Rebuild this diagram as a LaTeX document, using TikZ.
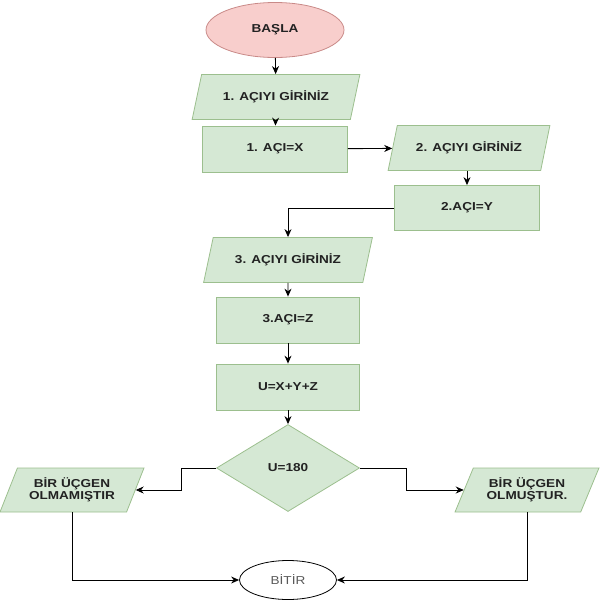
\documentclass[tikz,border=0pt]{standalone}
\usepackage{fontspec}
\setmainfont{Liberation Sans}[FakeStretch=1.18]
\usetikzlibrary{shapes.geometric,arrows.meta}
\definecolor{gfill}{HTML}{D5E8D4}
\definecolor{gdraw}{HTML}{9CBF8E}
\definecolor{pfill}{HTML}{F8CECC}
\definecolor{pdraw}{HTML}{C98A88}
\definecolor{txt}{HTML}{222222}
\tikzset{
  base/.style={font=\fontsize{11.5}{12.5}\selectfont\bfseries, text=txt, align=center, line width=0.8pt, inner sep=0pt},
  procbox/.style={base, rectangle, draw=gdraw, fill=gfill, minimum width=144pt, minimum height=46pt},
  iobox/.style={base, trapezium, trapezium left angle=61, trapezium right angle=119, trapezium stretches=true, draw=gdraw, fill=gfill, minimum height=45pt},
  decbox/.style={base, diamond, draw=gdraw, fill=gfill, minimum width=143pt, minimum height=87pt, aspect=1.64},
  startbox/.style={base, ellipse, draw=pdraw, fill=pfill, minimum width=138pt, minimum height=55pt},
  endbox/.style={ellipse, draw=black, fill=white, line width=0.8pt, minimum width=97pt, minimum height=39pt, inner sep=0pt, font=\fontsize{11.5}{12.5}\selectfont, text=black!65},
  arr/.style={draw=black, line width=0.9pt, -{Stealth[length=8pt,width=7pt]}}
}
\begin{document}
\begin{tikzpicture}[x=1pt,y=-1pt]
\useasboundingbox (0,0) rectangle (600,600);
\node[startbox] (start) at (275,30) {BAŞLA};
\node[iobox, minimum width=168pt] (in1) at (276,97) {1. AÇIYI GİRİNİZ};
\node[procbox, minimum width=145pt] (x) at (275,149) {1. AÇI=X};
\node[iobox, minimum width=162pt] (in2) at (469,148) {2. AÇIYI GİRİNİZ};
\node[procbox, minimum width=145pt, minimum height=45pt] (y) at (467,208) {2.AÇI=Y};
\node[iobox, minimum width=169pt] (in3) at (288,260) {3. AÇIYI GİRİNİZ};
\node[procbox, minimum width=143pt] (z) at (288,320) {3.AÇI=Z};
\node[procbox, minimum width=143pt] (u) at (288,387) {U=X+Y+Z};
\node[decbox] (d) at (288,468) {U=180};
\node[iobox, minimum width=144pt, minimum height=44pt] (no) at (72,490) {BİR ÜÇGEN\\OLMAMIŞTIR};
\node[iobox, minimum width=144pt, minimum height=44pt] (yes) at (527,490) {BİR ÜÇGEN\\OLMUŞTUR.};
\node[endbox] (end) at (288,580) {BİTİR};
\draw[arr] (start) -- (in1);
\draw[arr] (in1) -- (x);
\draw[arr] (x) -- (in2);
\draw[arr] (in2.south -| y.north) -- (y);
\draw[arr] (y.west) -| (in3.north);
\draw[arr] (in3) -- (z);
\draw[arr] (z) -- (u);
\draw[arr] (u) -- (d);
\draw[arr] (d.west) -- ++(-35,0) |- (no.east);
\draw[arr] (d.east) -- ++(47,0) |- (yes.west);
\draw[arr] (no.south) |- (end.west);
\draw[arr] (yes.south) |- (end.east);
\end{tikzpicture}
\end{document}
